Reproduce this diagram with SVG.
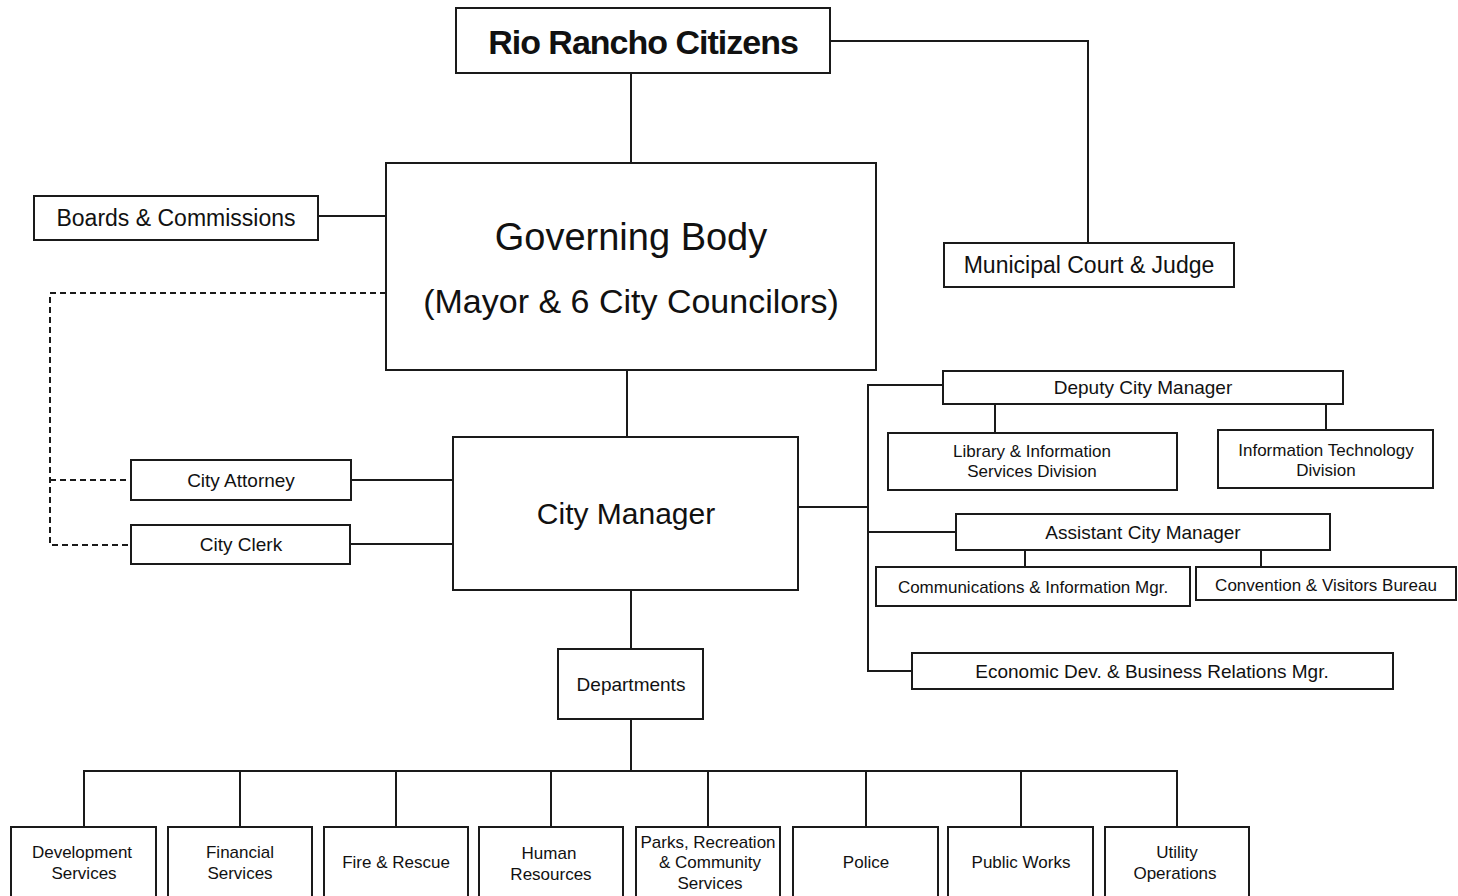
<svg xmlns="http://www.w3.org/2000/svg" width="1458" height="896" viewBox="0 0 1458 896">
<style>
.box{fill:#fff;stroke:#1a1a1a;stroke-width:2}
.ln{fill:none;stroke:#1a1a1a;stroke-width:2}
.dash{fill:none;stroke:#1a1a1a;stroke-width:2;stroke-dasharray:6,4}
text{font-family:"Liberation Sans",Arial,sans-serif;fill:#111;text-anchor:middle}
.t17{font-size:17px}
.t19{font-size:19px}
.t23{font-size:23px}
</style>
<rect width="1458" height="896" fill="#fff"/>
<g id="connectors">
<path class="ln" d="M631 73V163"/>
<path class="ln" d="M830 41H1088V243"/>
<path class="ln" d="M318 216H386"/>
<path class="dash" d="M386 293H50V545H131M50 480H131"/>
<path class="ln" d="M351 480H453"/>
<path class="ln" d="M350 544H453"/>
<path class="ln" d="M627 370V437"/>
<path class="ln" d="M798 507H868"/>
<path class="ln" d="M943 385H868V671H912"/>
<path class="ln" d="M868 532H956"/>
<path class="ln" d="M995 404V433"/>
<path class="ln" d="M1326 404V430"/>
<path class="ln" d="M1025 550V567"/>
<path class="ln" d="M1261 550V567"/>
<path class="ln" d="M631 590V649"/>
<path class="ln" d="M631 719V771"/>
<path class="ln" d="M84 827V771H1177V827"/>
<path class="ln" d="M240 771V827M396 771V827M551 771V827M708 771V827M866 771V827M1021 771V827"/>
</g>
<g id="citizens">
<rect class="box" x="456" y="8" width="374" height="65"/>
<text x="643" y="54" font-size="34" font-weight="bold" letter-spacing="-1">Rio Rancho Citizens</text>
</g>
<g id="governing-body">
<rect class="box" x="386" y="163" width="490" height="207"/>
<text x="631" y="250" font-size="38">Governing Body</text>
<text x="631" y="313" font-size="34">(Mayor &amp; 6 City Councilors)</text>
</g>
<g id="boards">
<rect class="box" x="34" y="196" width="284" height="44"/>
<text class="t23" x="176" y="226">Boards &amp; Commissions</text>
</g>
<g id="court">
<rect class="box" x="944" y="243" width="290" height="44"/>
<text class="t23" x="1089" y="273">Municipal Court &amp; Judge</text>
</g>
<g id="attorney">
<rect class="box" x="131" y="460" width="220" height="40"/>
<text class="t19" x="241" y="487">City Attorney</text>
</g>
<g id="clerk">
<rect class="box" x="131" y="525" width="219" height="39"/>
<text class="t19" x="241" y="551">City Clerk</text>
</g>
<g id="city-manager">
<rect class="box" x="453" y="437" width="345" height="153"/>
<text x="626" y="524" font-size="30">City Manager</text>
</g>
<g id="deputy">
<rect class="box" x="943" y="371" width="400" height="33"/>
<text class="t19" x="1143" y="394">Deputy City Manager</text>
</g>
<g id="library">
<rect class="box" x="888" y="433" width="289" height="57"/>
<text class="t17" x="1032" y="457">Library &amp; Information</text>
<text class="t17" x="1032" y="477">Services Division</text>
</g>
<g id="it">
<rect class="box" x="1218" y="430" width="215" height="58"/>
<text class="t17" x="1326" y="456">Information Technology</text>
<text class="t17" x="1326" y="476">Division</text>
</g>
<g id="assistant">
<rect class="box" x="956" y="514" width="374" height="36"/>
<text class="t19" x="1143" y="539">Assistant City Manager</text>
</g>
<g id="communications">
<rect class="box" x="876" y="567" width="314" height="39"/>
<text class="t17" x="1033" y="593">Communications &amp; Information Mgr.</text>
</g>
<g id="convention">
<rect class="box" x="1196" y="567" width="260" height="33"/>
<text class="t17" x="1326" y="591">Convention &amp; Visitors Bureau</text>
</g>
<g id="economic">
<rect class="box" x="912" y="653" width="481" height="36"/>
<text class="t19" x="1152" y="678">Economic Dev. &amp; Business Relations Mgr.</text>
</g>
<g id="departments">
<rect class="box" x="558" y="649" width="145" height="70"/>
<text class="t19" x="631" y="691">Departments</text>
</g>
<g id="dev-services">
<rect class="box" x="11" y="827" width="145" height="80"/>
<text class="t17" x="82" y="858">Development</text>
<text class="t17" x="84" y="879">Services</text>
</g>
<g id="financial">
<rect class="box" x="168" y="827" width="144" height="80"/>
<text class="t17" x="240" y="858">Financial</text>
<text class="t17" x="240" y="879">Services</text>
</g>
<g id="fire">
<rect class="box" x="324" y="827" width="144" height="80"/>
<text class="t17" x="396" y="868">Fire &amp; Rescue</text>
</g>
<g id="hr">
<rect class="box" x="479" y="827" width="144" height="80"/>
<text class="t17" x="549" y="859">Human</text>
<text class="t17" x="551" y="880">Resources</text>
</g>
<g id="parks">
<rect class="box" x="636" y="827" width="144" height="80"/>
<text class="t17" x="708" y="848">Parks, Recreation</text>
<text class="t17" x="710" y="868">&amp; Community</text>
<text class="t17" x="710" y="889">Services</text>
</g>
<g id="police">
<rect class="box" x="793" y="827" width="145" height="80"/>
<text class="t17" x="866" y="868">Police</text>
</g>
<g id="public-works">
<rect class="box" x="948" y="827" width="145" height="80"/>
<text class="t17" x="1021" y="868">Public Works</text>
</g>
<g id="utility">
<rect class="box" x="1105" y="827" width="144" height="80"/>
<text class="t17" x="1177" y="858">Utility</text>
<text class="t17" x="1175" y="879">Operations</text>
</g>
</svg>
